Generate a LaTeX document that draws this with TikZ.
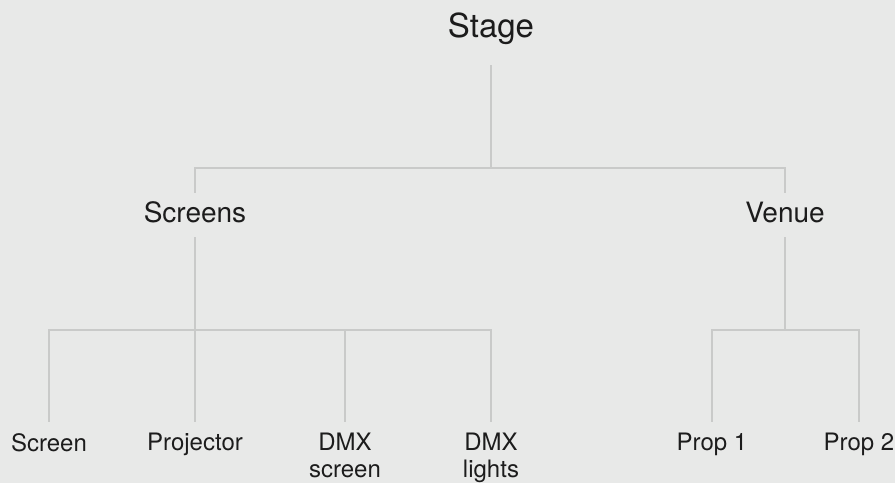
\documentclass[tikz,border=0pt]{standalone}
\usepackage{fontspec}
\setmainfont{TeX Gyre Heros}
\usepackage{xcolor}
\definecolor{stagebg}{HTML}{E8E9E8}
\definecolor{wiregray}{HTML}{C9CAC9}
\definecolor{labelink}{HTML}{1C1C1C}

\begin{document}
\begin{tikzpicture}[x=1pt,y=-1pt,
    wire/.style={wiregray,line width=2.6pt},
    rootlabel/.style={anchor=base,inner sep=0pt,text=labelink,font=\fontsize{33}{39}\selectfont},
    grouplabel/.style={anchor=base,inner sep=0pt,text=labelink,font=\fontsize{28}{33}\selectfont},
    leaflabel/.style={anchor=north,inner sep=0pt,align=center,text=labelink,font=\fontsize{24}{27}\selectfont}]
    \useasboundingbox[fill=stagebg] (0,0) rectangle (895,483);

    % Root and groups
    \node[rootlabel] (stage) at (491,37) {Stage};
    \node[grouplabel] (screens) at (195,222) {Screens};
    \node[grouplabel] (venue) at (785,222) {Venue};

    % Leaves (top of first line)
    \node[leaflabel] (screen) at (49,433) {Screen};
    \node[leaflabel] (projector) at (195,433) {Projector};
    \node[leaflabel] (dmxscreen) at (345,433) {DMX\\screen};
    \node[leaflabel] (dmxlights) at (491,433) {DMX\\lights};
    \node[leaflabel] (prop1) at (712,433) {Prop 1};
    \node[leaflabel] (prop2) at (859,433) {Prop 2};

    % Stage to groups
    \foreach \grp in {screens, venue} {
        \draw[wire] ([yshift=-28pt]stage.base) -- ++(0,103) -| ([yshift=29pt]\grp.base);
    }

    % Groups to leaves
    \foreach \leaf in {screen, projector, dmxscreen, dmxlights} {
        \draw[wire] ([yshift=-15pt]screens.base) -- ++(0,93) -| ([yshift=11pt]\leaf.north);
    }
    \foreach \leaf in {prop1, prop2} {
        \draw[wire] ([yshift=-15pt]venue.base) -- ++(0,93) -| ([yshift=11pt]\leaf.north);
    }
\end{tikzpicture}
\end{document}
